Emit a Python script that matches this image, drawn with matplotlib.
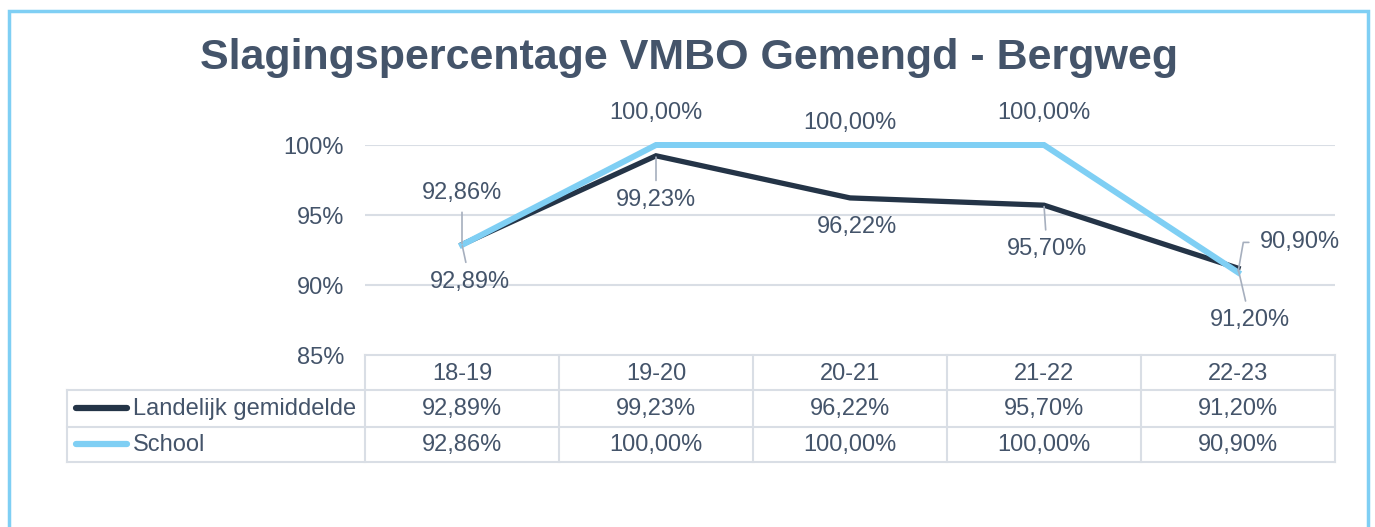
import matplotlib.pyplot as plt
from matplotlib.lines import Line2D
from matplotlib.patches import Rectangle

# data
jaren = ['18-19', '19-20', '20-21', '21-22', '22-23']
landelijk = [92.89, 99.23, 96.22, 95.70, 91.20]
school = [92.86, 100.00, 100.00, 100.00, 90.90]
yticks = [85, 90, 95, 100]

# label offsets (pixels) as placed in the original Excel chart
off_land = [(8, -37), (0, -44), (7, -29), (3, -44), (12, -52)]
off_school = [(0, 52), (0, 32), (0, 22), (0, 32), (62, 30)]
lead_land = [True, True, False, True, True]
lead_school = [True, False, False, False, True]

DONKER = '#243447'
LICHT = '#7FCFF4'
TEKST = '#44546A'
RASTER = '#D9DEE5'
LEIDER = '#A6AFBE'
FS = 17

plt.rcParams['font.family'] = ['Liberation Sans', 'DejaVu Sans']

W, H = 1375, 527
fig = plt.figure(figsize=(W / 100, H / 100), dpi=100)
fig.patch.set_facecolor('white')

# light blue frame
fig.add_artist(Rectangle((8.5 / W, -0.05), (1368 - 8.5) / W, 1.05 - 10.5 / H,
                         transform=fig.transFigure, fill=False,
                         edgecolor=LICHT, linewidth=2.5))

fig.text(0.501, 1 - 58 / H, 'Slagingspercentage VMBO Gemengd - Bergweg',
         ha='center', va='center', fontsize=31, fontweight='bold', color=TEKST)

# plot area in pixels
x0, x1, ytop, ybot = 365, 1335, 145, 355
ax = fig.add_axes([x0 / W, 1 - ybot / H, (x1 - x0) / W, (ybot - ytop) / H])
ax.set_xlim(-0.5, len(jaren) - 0.5)
ax.set_ylim(85, 100)
ax.set_yticks(yticks)
ax.set_yticklabels([f'{t}%' for t in yticks])
ax.tick_params(axis='y', length=0, pad=15, labelsize=FS, labelcolor=TEKST)
ax.set_xticks([])
for s in ax.spines.values():
    s.set_visible(False)
for t in yticks[1:]:
    ax.axhline(t, color=RASTER, linewidth=1.5, zorder=0)

xs = list(range(len(jaren)))
ax.plot(xs, landelijk, color=DONKER, linewidth=3.8, clip_on=False, zorder=3,
        solid_joinstyle='miter')
ax.plot(xs, school, color=LICHT, linewidth=4.3, clip_on=False, zorder=4,
        solid_joinstyle='miter')


def fmt(v):
    return f'{v:.2f}%'.replace('.', ',')


for i in xs:
    for vals, offs, leads in ((landelijk, off_land, lead_land),
                              (school, off_school, lead_school)):
        dx, dy = offs[i]
        ap = None
        if leads[i]:
            ap = dict(arrowstyle='-', color=LEIDER, linewidth=1.2,
                      shrinkA=4, shrinkB=1)
            if dx > 30:
                ap.update(connectionstyle='angle,angleA=0,angleB=80',
                          relpos=(0, 0.5), shrinkA=6)
        ax.annotate(fmt(vals[i]), (i, vals[i]), xytext=(dx, dy),
                    textcoords='offset pixels', ha='center', va='center',
                    fontsize=FS, color=TEKST, arrowprops=ap, zorder=5,
                    annotation_clip=False)

# data table below the plot, in data x / axes y coordinates
tr = ax.get_xaxis_transform()
ph = ybot - ytop
cw = (x1 - x0) / len(jaren)


def ay(py):
    return (ybot - py) / ph


def dx_px(px):
    return -0.5 + (px - x0) / cw


rij_y = [390, 427, 462]
for py in [ybot] + rij_y:
    left = -0.5 if py == ybot else dx_px(67)
    ax.add_line(Line2D([left, len(jaren) - 0.5], [ay(py)] * 2, transform=tr,
                       color=RASTER, linewidth=1.5, clip_on=False))
for k in range(len(jaren) + 1):
    ax.add_line(Line2D([k - 0.5] * 2, [ay(ybot), ay(462)], transform=tr,
                       color=RASTER, linewidth=1.5, clip_on=False))
ax.add_line(Line2D([dx_px(67)] * 2, [ay(390), ay(462)], transform=tr,
                   color=RASTER, linewidth=1.5, clip_on=False))

for i, j in enumerate(jaren):
    ax.text(i, ay(374), j, transform=tr, ha='center', va='center',
            fontsize=FS, color=TEKST)
    ax.text(i, ay(409), fmt(landelijk[i]), transform=tr, ha='center',
            va='center', fontsize=FS, color=TEKST)
    ax.text(i, ay(445), fmt(school[i]), transform=tr, ha='center',
            va='center', fontsize=FS, color=TEKST)

for naam, kleur, py in (('Landelijk gemiddelde', DONKER, 408),
                        ('School', LICHT, 444)):
    ax.add_line(Line2D([dx_px(76), dx_px(127)], [ay(py)] * 2, transform=tr,
                       color=kleur, linewidth=4.5, solid_capstyle='round',
                       clip_on=False))
    ax.text(dx_px(133), ay(py + 1), naam, transform=tr, ha='left',
            va='center', fontsize=FS, color=TEKST)

fig.savefig('out.png', dpi=100, facecolor='white')
